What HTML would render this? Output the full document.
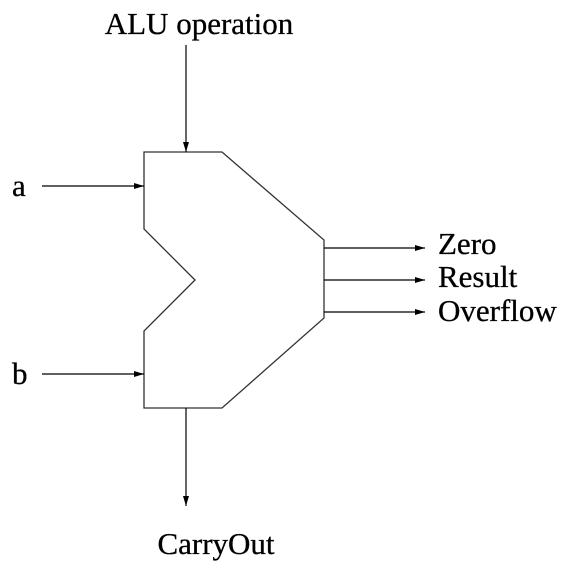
<!DOCTYPE html>
<html><head><style>body{margin:0;background:#fff}</style></head><body>
<svg width="572" height="564" xmlns="http://www.w3.org/2000/svg" font-family="Liberation Serif, serif" font-size="31">
<defs><marker id="ah" markerWidth="10" markerHeight="6" refX="10" refY="3" orient="auto" markerUnits="userSpaceOnUse"><path d="M0,0 L10,3 L0,6 z" fill="#000"/></marker></defs>
<rect width="572" height="564" fill="#fff"/>
<path d="M144,152 L222,152 L324,240 L324,318 L222,408 L144,408 L144,331 L195,280 L144,229 Z" fill="none" stroke="#333" stroke-width="1.3"/>
<g stroke="#000" stroke-width="1.2" marker-end="url(#ah)">
<line x1="186" y1="45" x2="186" y2="152"/>
<line x1="42" y1="186" x2="144" y2="186"/>
<line x1="42" y1="374" x2="144" y2="374"/>
<line x1="324" y1="248" x2="425" y2="248"/>
<line x1="324" y1="280" x2="425" y2="280"/>
<line x1="324" y1="312" x2="425" y2="312"/>
<line x1="186" y1="408" x2="186" y2="506"/>
</g>
<g stroke="#000" stroke-width="0.3">
<text x="199" y="34" text-anchor="middle">ALU operation</text>
<text x="12" y="196">a</text>
<text x="12" y="384">b</text>
<text x="438" y="254">Zero</text>
<text x="438" y="287">Result</text>
<text x="438" y="321">Overflow</text>
<text x="216" y="554" text-anchor="middle">CarryOut</text>
</g>
</svg>
</body></html>
